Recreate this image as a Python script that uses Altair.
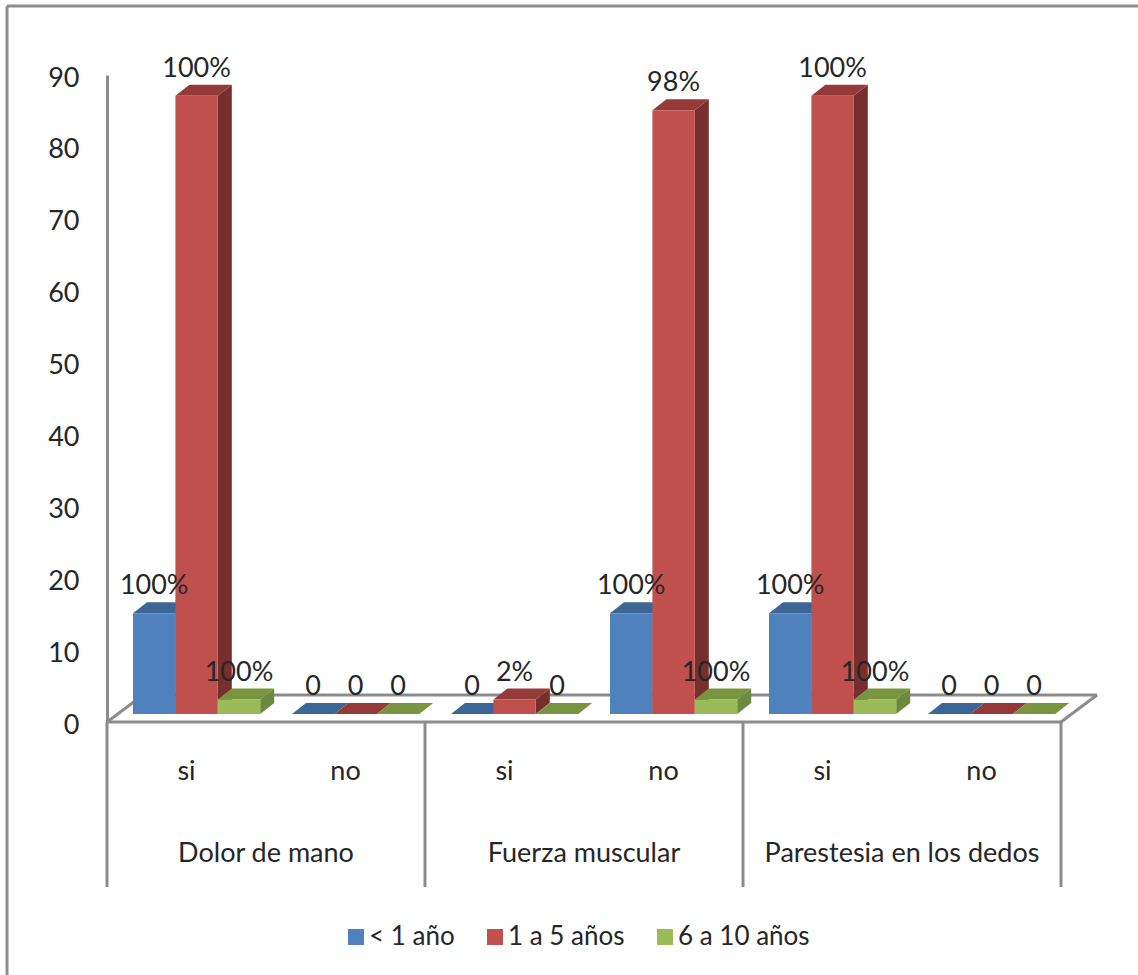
import altair as alt
import pandas as pd

groups = ["Dolor de mano", "Fuerza muscular", "Parestesia en los dedos"]
answers = ["si", "no", "si", "no", "si", "no"]
series = ["< 1 año", "1 a 5 años", "6 a 10 años"]

under_one = [14, 0, 0, 14, 14, 0]
one_to_five = [86, 0, 2, 84, 86, 0]
six_to_ten = [2, 0, 0, 2, 2, 0]
values = [under_one, one_to_five, six_to_ten]

under_one_labels = ["100%", "0", "0", "100%", "100%", "0"]
one_to_five_labels = ["100%", "0", "2%", "98%", "100%", "0"]
six_to_ten_labels = ["100%", "0", "0", "100%", "100%", "0"]
labels = [under_one_labels, one_to_five_labels, six_to_ten_labels]

front = ["#4F81BD", "#C0504D", "#9BBB59"]
top = ["#3C6696", "#943B39", "#7A953F"]
side = ["#355A85", "#772F2D", "#6B8A3F"]

GREY = "#8C8C8C"
INK = "#262626"
FONT = "Lato"
FONT_SIZE = 27

# Plot geometry in data units: x counts answer slots, y is the value axis.
PLOT_W, PLOT_H = 954, 647
Y_MAX = 90
PX_X = PLOT_W / 6
PX_Y = PLOT_H / Y_MAX
BAR_W = 42.4 / PX_X
BAR_START = 26 / PX_X
BAR_LIFT = 8 / PX_Y
DEPTH_X = 14 / PX_X
DEPTH_Y = 11 / PX_Y
FLOOR_X = 36 / PX_X
FLOOR_Y = 27 / PX_Y

x_scale = alt.Scale(domain=[0, 6], nice=False, zero=False)
y_scale = alt.Scale(domain=[0, Y_MAX], nice=False)
y_axis = alt.Axis(
    values=list(range(0, 100, 10)),
    title=None,
    grid=False,
    ticks=False,
    domainColor=GREY,
    domainWidth=3,
    labelPadding=28,
    labelOffset=3,
    labelFont=FONT,
    labelFontSize=FONT_SIZE,
    labelColor=INK,
)


def bar_tables(s):
    """Return the front, top and side faces of one series' extruded bars."""
    fronts, tops, sides = [], [], []
    for slot, v in enumerate(values[s]):
        left = slot + BAR_START + s * BAR_W
        right = left + BAR_W
        low = BAR_LIFT
        high = BAR_LIFT + v
        fronts.append(dict(serie=series[s], x=left, x2=right, y=low, y2=high))
        for px, py, py2 in [
            (left, high, high),
            (left + DEPTH_X, high + DEPTH_Y, high),
            (right, high + DEPTH_Y, high),
            (right + DEPTH_X, high + DEPTH_Y, high + DEPTH_Y),
        ]:
            tops.append(dict(bar=slot, x=px, y=py, y2=py2))
        for px, py, py2 in [
            (right, high, low),
            (right + DEPTH_X, high + DEPTH_Y, low + DEPTH_Y),
        ]:
            sides.append(dict(bar=slot, x=px, y=py, y2=py2))
    return pd.DataFrame(fronts), pd.DataFrame(tops), pd.DataFrame(sides)


X = alt.X("x:Q", scale=x_scale, axis=None)
Y = alt.Y("y:Q", scale=y_scale, axis=y_axis)

# Floor of the 3-D plot, outlined behind the bars.
floor = pd.DataFrame(
    [
        dict(x=0, x2=6, y=0, y2=0),
        dict(x=FLOOR_X, x2=6 + FLOOR_X, y=FLOOR_Y, y2=FLOOR_Y),
        dict(x=0, x2=FLOOR_X, y=0, y2=FLOOR_Y),
        dict(x=6, x2=6 + FLOOR_X, y=0, y2=FLOOR_Y),
    ]
)
layers = [
    alt.Chart(floor)
    .mark_rule(color=GREY, strokeWidth=3)
    .encode(x=X, x2="x2:Q", y=Y, y2="y2:Q")
]

color_scale = alt.Scale(domain=series, range=front)
for s in range(3):
    f, t, d = bar_tables(s)
    layers.append(
        alt.Chart(d)
        .mark_area(color=side[s])
        .encode(x=X, y=Y, y2="y2:Q", detail="bar:N")
    )
    layers.append(
        alt.Chart(t)
        .mark_area(color=top[s])
        .encode(x=X, y=Y, y2="y2:Q", detail="bar:N")
    )
    layers.append(
        alt.Chart(f)
        .mark_rect()
        .encode(
            x=X,
            x2="x2:Q",
            y=Y,
            y2="y2:Q",
            color=alt.Color(
                "serie:N",
                scale=color_scale,
                legend=alt.Legend(
                    title=None,
                    orient="none",
                    legendX=236,
                    legendY=849,
                    direction="horizontal",
                    columns=3,
                    symbolType="square",
                    symbolSize=256,
                    symbolStrokeWidth=0,
                    labelFont=FONT,
                    labelFontSize=26,
                    labelColor=INK,
                    columnPadding=27,
                    labelOffset=0,
                ),
            ),
        )
    )

# Value labels above each bar.
label_rows = []
for s in range(3):
    for slot, v in enumerate(values[s]):
        label_rows.append(
            dict(
                x=slot + BAR_START + (s + 0.5) * BAR_W,
                y=BAR_LIFT + v,
                text=labels[s][slot],
            )
        )
layers.append(
    alt.Chart(pd.DataFrame(label_rows))
    .mark_text(font=FONT, fontSize=FONT_SIZE, color=INK, dy=-27)
    .encode(x=X, y=Y, text="text:N")
)

# Two-level category axis below the floor.
sep_df = pd.DataFrame({"x": [0, 2, 4, 6]})
layers.append(
    alt.Chart(sep_df)
    .mark_rule(color=GREY, strokeWidth=3)
    .encode(x=X, y=alt.value(PLOT_H), y2=alt.value(PLOT_H + 165))
)
answer_df = pd.DataFrame({"x": [i + 0.5 for i in range(6)], "text": answers})
layers.append(
    alt.Chart(answer_df)
    .mark_text(font=FONT, fontSize=FONT_SIZE, color=INK)
    .encode(x=X, y=alt.value(PLOT_H + 50), text="text:N")
)
group_df = pd.DataFrame({"x": [1, 3, 5], "text": groups})
layers.append(
    alt.Chart(group_df)
    .mark_text(font=FONT, fontSize=FONT_SIZE, color=INK)
    .encode(x=X, y=alt.value(PLOT_H + 132), text="text:N")
)

# Chart-area border: only the top and left sides fall inside the page.
border = pd.DataFrame({"k": [0]})
layers.append(
    alt.Chart(border)
    .mark_rule(color=GREY, strokeWidth=3)
    .encode(x=alt.value(-100), x2=alt.value(1040), y=alt.value(-69))
)
layers.append(
    alt.Chart(border)
    .mark_rule(color=GREY, strokeWidth=3)
    .encode(x=alt.value(-100), y=alt.value(-69), y2=alt.value(910))
)

chart = (
    alt.layer(*layers)
    .resolve_scale(x="shared", y="shared")
    .properties(
        width=PLOT_W,
        height=PLOT_H,
        padding={"left": 107, "top": 75, "right": 77, "bottom": 253},
        autosize=alt.AutoSizeParams(type="none"),
        background="#FFFFFF",
    )
    .configure_view(stroke=None)
)

chart.save("out.html", embed_options={"renderer": "svg", "actions": False})
